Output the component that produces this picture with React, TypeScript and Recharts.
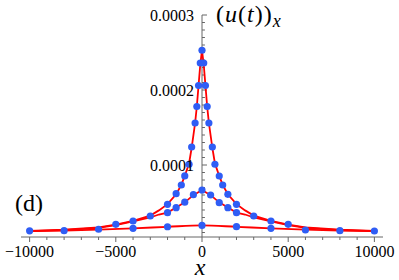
import { ComposedChart, Line, Scatter, XAxis, YAxis, ReferenceLine, ReferenceDot } from 'recharts'

const FONT = 'Liberation Serif, Times New Roman, serif'
const RED = '#ff0000'
const BLUE = '#2f5df5'
const AXIS = '#666666'

// curve A (sharp peak) - dots
const A_DOT_X = [-10000, -8000, -5000, -4000, -3000, -2000, -1500, -1200, -1000, -750, -600, -400, -300, -200, -100, 0, 100, 200, 300, 400, 600, 750, 1000, 1200, 1500, 2000, 3000, 4000, 5000, 8000, 10000]
const A_DOT_Y = [0.0000122, 0.0000124, 0.0000209, 0.0000253, 0.000032, 0.0000476, 0.0000618, 0.0000733, 0.0000855, 0.000101, 0.000124, 0.000156, 0.000178, 0.000206, 0.000236, 0.000253, 0.000236, 0.000206, 0.000178, 0.000156, 0.000124, 0.000101, 0.0000853, 0.0000733, 0.0000609, 0.0000476, 0.000032, 0.0000253, 0.0000209, 0.0000124, 0.000012]

// curve A - line
const A_LINE_X = [-10000, -8000, -6000, -5000, -4000, -3000, -2500, -2000, -1500, -1200, -1000, -750, -600, -400, -300, -200, -100, 0, 100, 200, 300, 400, 600, 750, 1000, 1200, 1500, 2000, 2500, 3000, 4000, 5000, 6000, 8000, 10000]
const A_LINE_Y = [0.0000121, 0.0000138, 0.0000168, 0.0000205, 0.0000255, 0.0000325, 0.0000395, 0.0000478, 0.000061, 0.0000735, 0.0000855, 0.000102, 0.000123, 0.000156, 0.000178, 0.000206, 0.000234, 0.000253, 0.000234, 0.000206, 0.000178, 0.000156, 0.000123, 0.000102, 0.0000855, 0.0000735, 0.000061, 0.0000478, 0.0000395, 0.0000325, 0.0000255, 0.0000205, 0.0000168, 0.0000138, 0.0000121]

// curve B (medium peak)
const B_DOT_X = [-2000, -1500, -1000, -500, 0, 500, 1000, 1500, 2000]
const B_DOT_Y = [0.0000364, 0.0000431, 0.0000505, 0.0000605, 0.0000667, 0.00006, 0.0000498, 0.0000431, 0.0000364]
const B_LINE_X = [-10000, -8000, -6000, -5000, -4000, -3000, -2500, -2000, -1500, -1000, -500, 0, 500, 1000, 1500, 2000, 2500, 3000, 4000, 5000, 6000, 8000, 10000]
const B_LINE_Y = [0.0000119, 0.0000133, 0.0000162, 0.0000198, 0.0000248, 0.000030, 0.000034, 0.0000366, 0.0000432, 0.0000502, 0.0000598, 0.0000667, 0.0000598, 0.0000502, 0.0000432, 0.0000366, 0.000034, 0.000030, 0.0000248, 0.0000198, 0.0000162, 0.0000133, 0.0000119]

// curve C (flat)
const C_DOT_X = [-6000, -4000, -2000, 0, 2000, 4000, 6000]
const C_DOT_Y = [0.0000143, 0.0000156, 0.0000177, 0.0000195, 0.0000178, 0.0000156, 0.0000133]
const C_LINE_X = [-10000, -8000, -6000, -4000, -2000, 0, 2000, 4000, 6000, 8000, 10000]
const C_LINE_Y = [0.0000118, 0.0000126, 0.0000138, 0.0000155, 0.0000176, 0.0000195, 0.0000176, 0.0000155, 0.0000138, 0.0000126, 0.0000118]

const X_TICKS = [-10000, -9000, -8000, -7000, -6000, -5000, -4000, -3000, -2000, -1000, 0, 1000, 2000, 3000, 4000, 5000, 6000, 7000, 8000, 9000, 10000]
const X_LABELS: Record<string, string> = {
  '-10000': '\u221210000',
  '-5000': '\u22125000',
  '0': '0',
  '5000': '5000',
  '10000': '10000',
}
const Y_MAJOR = [0.0001, 0.0002, 0.0003]
const Y_LABELS = ['0.0001', '0.0002', '0.0003']
const Y_MINOR = Array.from({ length: 30 }, (_, i) => +((i + 1) * 0.00001).toFixed(6))

const toPoints = (xs: number[], ys: number[]) => xs.map((x, i) => ({ x, y: ys[i] }))

const aDots = toPoints(A_DOT_X, A_DOT_Y)
const aLine = toPoints(A_LINE_X, A_LINE_Y)
const bDots = toPoints(B_DOT_X, B_DOT_Y)
const bLine = toPoints(B_LINE_X, B_LINE_Y)
const cDots = toPoints(C_DOT_X, C_DOT_Y)
const cLine = toPoints(C_LINE_X, C_LINE_Y)

const renderDot = (p: any) => <circle cx={p.cx} cy={p.cy} r={3.6} fill={BLUE} />

function XTick(props: any) {
  const { x, y, payload } = props
  const label = X_LABELS[String(payload.value)]
  return (
    <g>
      <line x1={x} x2={x} y1={y} y2={y + (label ? 5 : 3)} stroke={AXIS} strokeWidth={1} />
      {label && (
        <text x={x} y={y + 20} textAnchor="middle" style={{ fontFamily: FONT, fontSize: 16 }} fill="#000">
          {label}
        </text>
      )}
    </g>
  )
}

export default function App() {
  return (
    <div style={{ position: 'fixed', left: 0, top: 0, width: 399, height: 280, background: '#fff', fontFamily: FONT }}>
      <ComposedChart width={399} height={280} margin={{ top: 15, right: 16, bottom: 13, left: 21 }} style={{ fontFamily: FONT }}>
        <XAxis
          type="number"
          dataKey="x"
          domain={[-10500, 10500]}
          ticks={X_TICKS}
          interval={0}
          tick={<XTick />}
          tickLine={false}
          tickSize={0}
          tickMargin={0}
          axisLine={{ stroke: AXIS, strokeWidth: 1 }}
          height={30}
          allowDataOverflow
        />
        <YAxis type="number" dataKey="y" domain={[0.000004, 0.0003]} hide allowDataOverflow />
        <ReferenceLine x={0} stroke={AXIS} strokeWidth={1} />
        {Y_MINOR.map((v) => (
          <ReferenceLine
            key={'m' + v}
            segment={[{ x: 0, y: v }, { x: Y_MAJOR.some((m) => Math.abs(m - v) < 1e-9) ? 290 : 170, y: v }]}
            stroke={AXIS}
            strokeWidth={1}
          />
        ))}
        {Y_MAJOR.map((v, i) => (
          <ReferenceDot
            key={'l' + v}
            x={0}
            y={v}
            r={0}
            stroke="none"
            fill="none"
            label={{ value: Y_LABELS[i], position: 'left', offset: 8, fontSize: 16, fill: '#000', style: { fontFamily: FONT } }}
          />
        ))}
        <Scatter data={aDots} dataKey="y" shape={renderDot} isAnimationActive={false} />
        <Scatter data={bDots} dataKey="y" shape={renderDot} isAnimationActive={false} />
        <Scatter data={cDots} dataKey="y" shape={renderDot} isAnimationActive={false} />
        <Line data={aLine} dataKey="y" type="linear" stroke={RED} strokeWidth={1.8} dot={false} activeDot={false} isAnimationActive={false} />
        <Line data={bLine} dataKey="y" type="linear" stroke={RED} strokeWidth={1.8} dot={false} activeDot={false} isAnimationActive={false} />
        <Line data={cLine} dataKey="y" type="monotone" stroke={RED} strokeWidth={1.8} dot={false} activeDot={false} isAnimationActive={false} />
      </ComposedChart>
      <svg width={399} height={280} style={{ position: 'absolute', left: 0, top: 0, pointerEvents: 'none', fontFamily: FONT }}>
        <text x={216} y={21.5} fontSize={24} letterSpacing={1} fill="#000">
          (<tspan fontStyle="italic">u</tspan>(<tspan fontStyle="italic">t</tspan>))
          <tspan fontStyle="italic" fontSize={18} dy={5}>x</tspan>
        </text>
        <text x={15} y={211} fontSize={24} fill="#000">(d)</text>
        <text x={200} y={275} textAnchor="middle" fontSize={24} fontStyle="italic" fill="#000">x</text>
      </svg>
    </div>
  )
}
